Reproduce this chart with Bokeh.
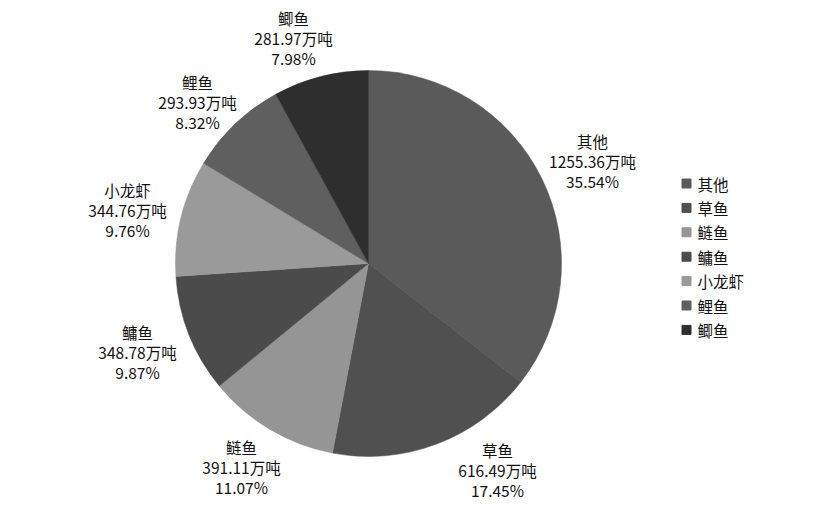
import math
from bokeh.plotting import figure
from bokeh.models import Range1d, ColumnDataSource
from bokeh.core.properties import value
from bokeh.embed import file_html
from bokeh.resources import INLINE

# ---- data ----
categories = ["其他", "草鱼", "鲢鱼", "鳙鱼", "小龙虾", "鲤鱼", "鲫鱼"]
amounts = [1255.36, 616.49, 391.11, 348.78, 344.76, 293.93, 281.97]  # 万吨
colors = ["#5a5a5a", "#505050", "#959595", "#4b4b4b", "#9a9a9a", "#5f5f5f", "#2e2e2e"]

# ---- layout (pixel coordinates of the reference picture) ----
W, H = 798, 504
def fx(px): return px
def fy(py): return H - py

cx, cy, R = 368, 263, 193
label_pos = [(592, 160), (497, 469), (241, 466), (137, 351), (127, 209), (197, 101), (293, 37)]
FONT = value("Noto Sans CJK SC")

total = sum(amounts)
starts, ends = [], []
a = math.pi / 2
for v in amounts:
    sweep = v / total * 2 * math.pi
    starts.append(a)
    ends.append(a - sweep)
    a -= sweep

p = figure(width=W, height=H, output_backend="svg", toolbar_location=None,
           x_range=Range1d(0, W), y_range=Range1d(0, H), min_border=0,
           background_fill_color="white", border_fill_color="white")
p.axis.visible = False
p.grid.visible = False
p.outline_line_color = None

src = ColumnDataSource(dict(start=starts, end=ends, color=colors))
p.wedge(x=fx(cx), y=fy(cy), radius=R, radius_units="screen",
        start_angle="start", end_angle="end", direction="clock",
        fill_color="color", line_color="color", line_width=0.5, source=src)

# data labels
names = categories
vals = [f"{v:.2f}万吨" for v in amounts]
pcts = [f"{v / total * 100:.2f}%" for v in amounts]
lx = [fx(x) for x, y in label_pos]
for lines, dy in ((names, 20), (vals, 0), (pcts, -20)):
    p.text(x=lx, y=[fy(y) + dy for x, y in label_pos], text=lines,
           text_font=FONT, text_font_size="15.5px", text_color="#111111",
           text_align="center", text_baseline="middle")

# legend
leg_y = [183 + i * 24.4 for i in range(len(categories))]
p.scatter(x=[fx(686)] * len(categories), y=[fy(y) for y in leg_y],
          marker="square", size=9, fill_color=colors, line_color=colors)
p.text(x=[fx(697)] * len(categories), y=[fy(y) for y in leg_y], text=categories,
       text_font=FONT, text_font_size="15.5px", text_color="#111111",
       text_align="left", text_baseline="middle")

open("out.html", "w").write(file_html(p, INLINE))
